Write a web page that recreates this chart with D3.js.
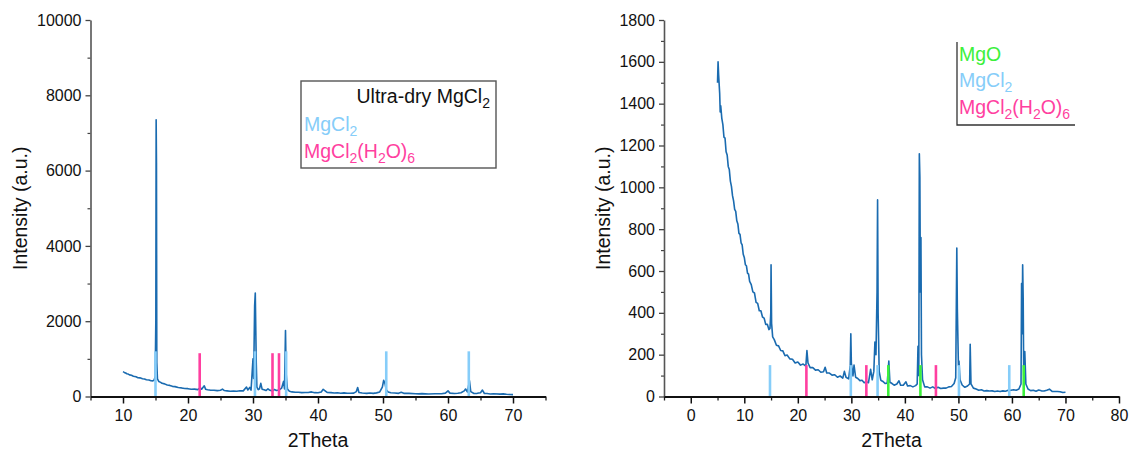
<!DOCTYPE html>
<html>
<head>
<meta charset="utf-8">
<script src="https://cdn.jsdelivr.net/npm/d3@7"></script>
<style>
body { margin: 0; background: #fff; }
text { font-family: Arial, "Liberation Sans", sans-serif; }
</style>
</head>
<body>
<script>
// measured pattern, left panel (2Theta, intensity)
const leftPattern = [
  [10.0,660],[10.2,640],[10.4,625],[10.6,605],[10.8,595],[11.0,575],[11.3,565],[11.6,540],[12.0,525],[12.3,500],
  [12.6,495],[13.0,470],[13.3,465],[13.6,445],[14.0,440],[14.3,420],[14.6,415],[14.8,440],[14.95,540],[15.05,2000],
  [15.1,7350],[15.15,6200],[15.2,900],[15.3,470],[15.5,400],[15.8,375],[16.0,350],[16.4,335],[16.8,305],[17.2,295],
  [17.6,270],[18.0,262],[18.5,238],[19.0,228],[19.5,212],[20.0,208],[20.5,192],[21.0,195],[21.5,182],[21.9,235],
  [22.1,195],[22.5,285],[22.7,195],[23.0,178],[23.5,165],[24.0,168],[24.5,155],[25.0,168],[25.3,195],[25.6,158],
  [26.0,150],[26.5,138],[27.0,142],[27.5,140],[28.0,152],[28.5,150],[29.0,250],[29.2,175],[29.5,240],[29.7,170],
  [30.0,1000],[30.1,480],[30.25,2400],[30.35,2750],[30.5,900],[30.6,250],[30.8,180],[31.0,205],[31.2,350],[31.4,195],
  [31.7,180],[32.0,158],[32.3,205],[32.6,165],[33.0,150],[33.3,185],[33.6,158],[34.0,172],[34.4,220],[34.7,400],
  [34.85,200],[35.0,1750],[35.1,600],[35.3,195],[35.6,140],[36.0,122],[36.5,112],[37.0,112],[37.5,104],[38.0,108],
  [38.5,106],[39.0,122],[39.5,102],[40.0,100],[40.5,122],[40.8,190],[41.1,150],[41.4,108],[42.0,102],[42.5,92],
  [43.0,100],[43.5,88],[44.0,96],[44.5,86],[45.0,88],[45.5,90],[45.9,130],[46.1,240],[46.3,108],[46.8,92],
  [47.5,84],[48.0,92],[48.5,84],[49.0,96],[49.5,120],[49.9,250],[50.1,430],[50.3,350],[50.5,180],[50.8,120],
  [51.2,98],[51.8,92],[52.4,84],[52.8,110],[53.2,84],[54.0,82],[55.0,72],[55.5,70],[56.0,76],[57.0,68],
  [58.0,72],[59.0,74],[59.6,90],[60.0,150],[60.3,90],[61.0,78],[61.5,86],[62.0,100],[62.5,150],[62.7,200],
  [63.0,120],[63.3,420],[63.5,130],[64.0,80],[64.5,84],[65.0,100],[65.3,170],[65.6,80],[66.0,78],[66.5,68],
  [67.0,74],[68.0,64],[68.5,70],[69.0,58],[69.5,55],[70.0,50]
];
const leftMgCl2 = [15.0, 30.3, 35.1, 50.5, 63.2];
const leftHydrate = [21.8, 33.0, 34.0];
const leftMgCl2Height = 1200;
const leftHydrateHeight = 1150;
const leftXTicks = [10, 20, 30, 40, 50, 60, 70];
const leftYTicks = [0, 2000, 4000, 6000, 8000, 10000];

// measured pattern, right panel
const rightPattern = [
  [5.0,1500],[5.1,1600],[5.2,1540],[5.4,1450],[5.5,1360],[5.6,1390],[5.8,1330],[6.0,1300],[6.2,1240],[6.4,1235],
  [6.6,1170],[6.8,1155],[7.0,1100],[7.2,1085],[7.4,1030],[7.6,1005],[7.8,960],[8.0,935],[8.2,895],[8.4,885],
  [8.6,840],[8.8,825],[9.0,780],[9.2,775],[9.4,735],[9.6,725],[9.8,680],[10.0,665],[10.2,630],[10.4,625],
  [10.6,590],[10.8,585],[11.0,550],[11.3,535],[11.6,500],[11.9,495],[12.2,450],[12.5,445],[12.8,410],[13.1,410],
  [13.4,380],[13.7,375],[14.0,345],[14.3,345],[14.6,320],[14.8,325],[14.95,400],[15.0,630],[15.1,350],[15.3,285],
  [15.6,272],[16.0,245],[16.4,242],[16.8,220],[17.2,218],[17.6,195],[18.0,198],[18.5,180],[19.0,178],[19.5,160],
  [20.0,165],[20.5,150],[21.0,155],[21.5,145],[21.7,220],[21.9,160],[22.3,138],[22.8,138],[23.3,126],[23.8,128],
  [24.3,116],[24.8,118],[25.1,140],[25.4,112],[25.9,112],[26.4,102],[26.9,104],[27.4,92],[27.9,98],[28.4,88],
  [28.7,120],[29.0,92],[29.5,84],[29.8,150],[29.9,300],[30.0,160],[30.3,98],[30.5,150],[30.8,92],[31.2,86],
  [31.6,76],[32.0,78],[32.4,66],[32.8,70],[33.2,66],[33.6,130],[33.9,80],[34.2,120],[34.4,260],[34.6,200],
  [34.8,500],[34.9,940],[35.0,400],[35.2,120],[35.5,78],[35.9,72],[36.3,62],[36.7,64],[37.0,170],[37.2,68],
  [37.6,62],[38.0,54],[38.5,60],[38.9,75],[39.2,54],[39.7,54],[40.2,70],[40.5,50],[41.0,52],[41.5,46],
  [42.0,52],[42.3,60],[42.45,240],[42.6,100],[42.7,1160],[42.8,1050],[42.9,500],[43.0,760],[43.1,200],[43.3,80],
  [43.7,46],[44.2,46],[44.7,40],[45.2,46],[45.7,38],[46.2,44],[46.7,38],[47.2,40],[47.7,40],[48.2,46],
  [48.7,48],[49.2,62],[49.5,90],[49.7,710],[49.8,420],[50.0,150],[50.1,170],[50.3,80],[50.7,55],[51.2,44],
  [51.7,50],[52.1,60],[52.2,250],[52.35,60],[52.8,40],[53.3,36],[53.8,30],[54.3,32],[54.8,26],[55.3,28],
  [55.8,26],[56.3,27],[56.8,24],[57.3,26],[57.8,24],[58.3,27],[58.8,25],[59.3,30],[59.8,30],[60.3,32],
  [60.8,30],[61.3,36],[61.7,60],[61.8,540],[61.9,300],[62.0,630],[62.1,470],[62.2,100],[62.4,215],[62.6,60],
  [63.0,36],[63.5,28],[64.0,30],[64.5,25],[65.0,31],[65.5,27],[66.0,26],[66.5,30],[67.0,35],[67.5,24],
  [68.0,24],[68.5,24],[69.0,23],[69.5,19],[70.0,20]
];
const rightMgO = [36.9, 42.9, 62.2];
const rightMgCl2 = [14.8, 29.9, 34.9, 50.1, 59.5];
const rightHydrate = [21.6, 32.8, 45.8];
const rightStickHeight = 150;
const rightXTicks = [0, 10, 20, 30, 40, 50, 60, 70, 80];
const rightYTicks = [0, 200, 400, 600, 800, 1000, 1200, 1400, 1600, 1800];

const CURVE = "#1a6bb0", SKY = "#86cdf9", PINK = "#ff3fa0", GREEN = "#3cf03c";
const FONT = "Arial, 'Liberation Sans', sans-serif";

const svg = d3.select("body").append("svg")
  .attr("width", 1130).attr("height", 455);

// text with subscripts: parts = [[string, isSub], ...]
function richText(g, x, y, parts, color, anchor) {
  const t = g.append("text").attr("x", x).attr("y", y)
    .attr("fill", color).attr("font-size", 19.5)
    .attr("text-anchor", anchor || "start");
  let down = false;
  parts.forEach(([s, sub]) => {
    const ts = t.append("tspan").text(s);
    if (sub && !down) { ts.attr("dy", 5).attr("font-size", 14); down = true; }
    else if (sub) { ts.attr("font-size", 14); }
    else if (down) { ts.attr("dy", -5); down = false; }
  });
  return t;
}

function drawPanel(cfg) {
  const x = d3.scaleLinear().domain(cfg.xDomain).range(cfg.xRange);
  const y = d3.scaleLinear().domain(cfg.yDomain).range(cfg.yRange);
  const g = svg.append("g");

  // minor ticks
  const xMinor = d3.range(cfg.xDomain[0], cfg.xDomain[1] + 0.01, cfg.xMinorStep)
    .filter(v => !cfg.xTicks.includes(v));
  const yMinor = d3.range(cfg.yDomain[0], cfg.yDomain[1] + 0.01, cfg.yMinorStep)
    .filter(v => !cfg.yTicks.includes(v));

  g.append("g").attr("transform", `translate(0,${cfg.yRange[0]})`)
    .call(d3.axisBottom(x).tickValues(xMinor).tickSize(4).tickFormat(""))
    .call(a => a.select(".domain").remove())
    .selectAll("line").attr("stroke", "#222").attr("stroke-width", 1.3);
  g.append("g").attr("transform", `translate(${cfg.xRange[0]},0)`)
    .call(d3.axisLeft(y).tickValues(yMinor).tickSize(3).tickFormat(""))
    .call(a => a.select(".domain").remove())
    .selectAll("line").attr("stroke", "#444").attr("stroke-width", 1.2);

  // curve
  const line = d3.line().x(d => x(d[0])).y(d => y(d[1]));
  g.append("path").datum(cfg.pattern)
    .attr("d", line).attr("fill", "none")
    .attr("stroke", CURVE).attr("stroke-width", 1.6)
    .attr("stroke-linejoin", "round");

  // reference sticks
  cfg.sticks.forEach(s => {
    g.selectAll(null).data(s.pos).enter().append("line")
      .attr("x1", d => x(d)).attr("x2", d => x(d))
      .attr("y1", y(0)).attr("y2", y(s.h))
      .attr("stroke", s.color).attr("stroke-width", 2.6);
  });

  // major axes
  const yAx = g.append("g").attr("transform", `translate(${cfg.xRange[0]},0)`)
    .call(d3.axisLeft(y).tickValues(cfg.yTicks).tickFormat(d3.format("d"))
      .tickSize(5).tickSizeOuter(0).tickPadding(4));
  yAx.select(".domain").attr("stroke", "#555").attr("stroke-width", 1.6);
  yAx.selectAll("line").attr("stroke", "#444").attr("stroke-width", 1.3);
  yAx.selectAll("text").attr("font-size", 16).attr("font-family", FONT).attr("fill", "#111");

  const xAx = g.append("g").attr("transform", `translate(0,${cfg.yRange[0]})`)
    .call(d3.axisBottom(x).tickValues(cfg.xTicks).tickFormat(d3.format("d"))
      .tickSize(7).tickSizeOuter(0).tickPadding(6));
  xAx.select(".domain").attr("stroke", "#111").attr("stroke-width", 2.2);
  xAx.selectAll("line").attr("stroke", "#111").attr("stroke-width", 1.5);
  xAx.selectAll("text").attr("font-size", 16).attr("font-family", FONT).attr("fill", "#111");

  // titles
  g.append("text")
    .attr("transform", `translate(${cfg.yTitleX},${(cfg.yRange[0] + cfg.yRange[1]) / 2}) rotate(-90)`)
    .attr("text-anchor", "middle").attr("font-size", 19.5).attr("fill", "#111")
    .text("Intensity (a.u.)");
  g.append("text")
    .attr("x", (cfg.xRange[0] + cfg.xRange[1]) / 2).attr("y", 447)
    .attr("text-anchor", "middle").attr("font-size", 19.5).attr("fill", "#111")
    .text("2Theta");
  return g;
}

const gl = drawPanel({
  pattern: leftPattern,
  xDomain: [5, 75], xRange: [90.5, 545.5],
  yDomain: [0, 10000], yRange: [396.5, 20],
  xTicks: leftXTicks, yTicks: leftYTicks,
  xMinorStep: 5, yMinorStep: 1000,
  yTitleX: 27,
  sticks: [
    { pos: leftMgCl2, h: leftMgCl2Height, color: SKY },
    { pos: leftHydrate, h: leftHydrateHeight, color: PINK }
  ]
});

const gr = drawPanel({
  pattern: rightPattern,
  xDomain: [-5, 80], xRange: [664, 1119],
  yDomain: [0, 1800], yRange: [396.5, 20],
  xTicks: rightXTicks, yTicks: rightYTicks,
  xMinorStep: 5, yMinorStep: 100,
  yTitleX: 610,
  sticks: [
    { pos: rightMgCl2, h: rightStickHeight, color: SKY },
    { pos: rightHydrate, h: rightStickHeight, color: PINK },
    { pos: rightMgO, h: rightStickHeight, color: GREEN }
  ]
});

// left legend
gl.append("rect").attr("x", 301).attr("y", 81).attr("width", 195).attr("height", 87)
  .attr("fill", "#fff").attr("stroke", "#555").attr("stroke-width", 1.4);
richText(gl, 490, 103, [["Ultra-dry MgCl", 0], ["2", 1]], "#111", "end");
richText(gl, 304, 131, [["MgCl", 0], ["2", 1]], SKY);
richText(gl, 304, 158, [["MgCl", 0], ["2", 1], ["(H", 0], ["2", 1], ["O)", 0], ["6", 1]], PINK);

// right legend
gr.append("path").attr("d", "M957,42V125H1075").attr("fill", "none")
  .attr("stroke", "#333").attr("stroke-width", 1.3);
richText(gr, 959, 61, [["MgO", 0]], GREEN);
richText(gr, 959, 87, [["MgCl", 0], ["2", 1]], SKY);
richText(gr, 959, 114, [["MgCl", 0], ["2", 1], ["(H", 0], ["2", 1], ["O)", 0], ["6", 1]], PINK);
</script>
</body>
</html>
